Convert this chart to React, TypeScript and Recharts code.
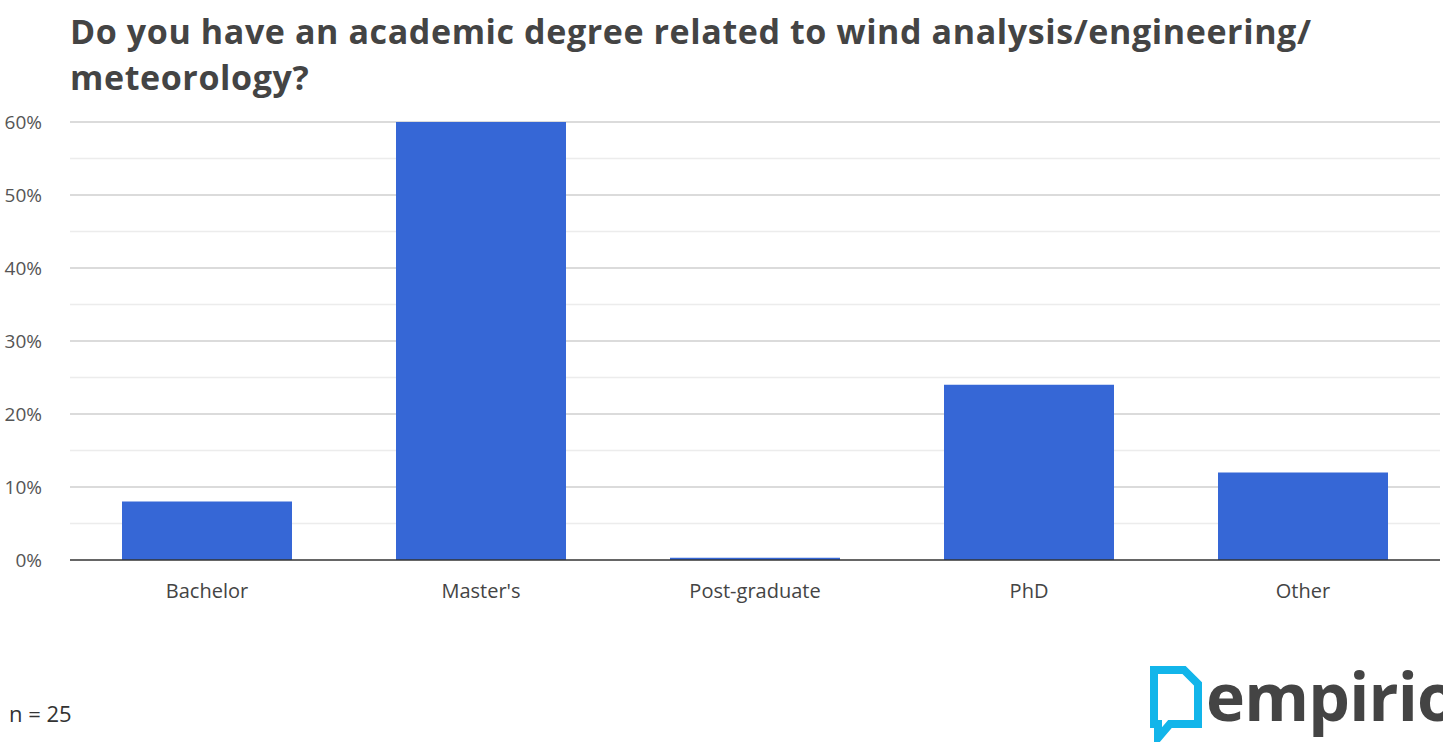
import React from 'react';
import { BarChart, Bar, XAxis, YAxis, CartesianGrid } from 'recharts';

// Survey answers (share of respondents, %)
const categories = ['Bachelor', "Master's", 'Post-graduate', 'PhD', 'Other'];
const shares = [8, 60, 0.3, 24, 12];
const majorTicks = [0, 10, 20, 30, 40, 50, 60];
const minorTicks = [5, 15, 25, 35, 45, 55];

const title = 'Do you have an academic degree related to wind analysis/engineering/ meteorology?';
const sampleNote = 'n = 25';

const data = categories.map((name, i) => ({ name, value: shares[i] }));

const font = '"Open Sans", "Noto Sans", sans-serif';

function Logo() {
  return (
    <div style={{ position: 'absolute', left: 1148, top: 662, display: 'flex', alignItems: 'flex-start' }}>
      <svg width={56} height={80} viewBox="0 0 56 80">
        <path
          d="M6 8 H36 L50 22 V62 H22 L10 76 V62 H6 Z"
          fill="none"
          stroke="#12b5ea"
          strokeWidth={8}
          strokeLinejoin="miter"
        />
      </svg>
      <span
        style={{
          fontFamily: font,
          fontWeight: 700,
          fontSize: 66,
          lineHeight: '66px',
          color: '#444',
          letterSpacing: -0.8,
          marginLeft: 2,
        }}
      >
        empirio
      </span>
    </div>
  );
}

export default function App() {
  return (
    <div style={{ position: 'absolute', left: 0, top: 0, width: 1443, height: 743, overflow: 'hidden', background: '#fff' }}>
      <div
        style={{
          position: 'absolute',
          left: 70,
          top: 8,
          width: 1320,
          fontFamily: font,
          fontWeight: 700,
          fontSize: 34,
          lineHeight: '46px',
          color: '#444',
          letterSpacing: 0.6,
        }}
      >
        {title}
      </div>
      <BarChart
        width={1443}
        height={743}
        data={data}
        margin={{ top: 122, right: 3, left: 0, bottom: 0 }}
      >
        <CartesianGrid vertical={false} horizontalValues={minorTicks} stroke="#ececec" strokeWidth={1.5} />
        <CartesianGrid vertical={false} horizontalValues={majorTicks.slice(1)} stroke="#cfcfcf" strokeWidth={1.5} />
        <YAxis
          width={70}
          domain={[0, 60]}
          ticks={majorTicks}
          tickFormatter={(v: number) => `${v}%`}
          axisLine={false}
          tickLine={false}
          tickMargin={22}
          tick={{ fill: '#555', fontSize: 19, fontFamily: font }}
        />
        <XAxis
          dataKey="name"
          height={183}
          axisLine={{ stroke: '#333', strokeWidth: 1.5 }}
          tickLine={false}
          tickMargin={18}
          tick={{ fill: '#444', fontSize: 20, fontFamily: font }}
        />
        <Bar dataKey="value" fill="#3667d6" barSize={170} isAnimationActive={false} />
      </BarChart>
      <div style={{ position: 'absolute', left: 9, top: 698, fontFamily: font, fontSize: 22, color: '#333' }}>
        {sampleNote}
      </div>
      <Logo />
    </div>
  );
}
